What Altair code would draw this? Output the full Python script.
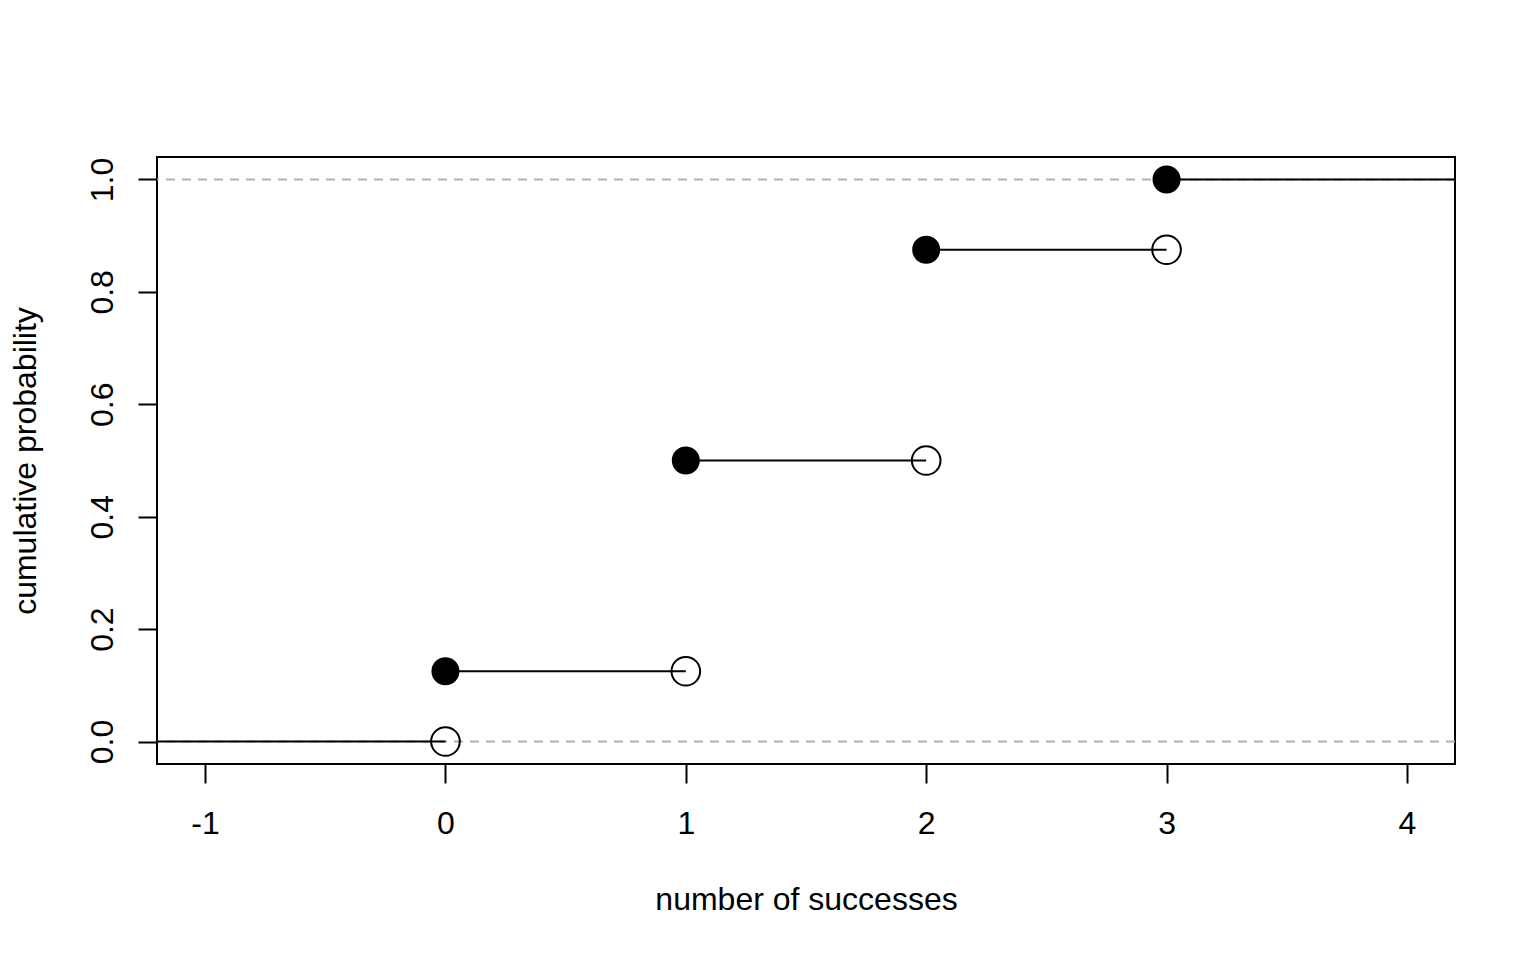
import altair as alt
import pandas as pd

# ECDF of number of successes (Binomial n=3, p=0.5)
knots = [0, 1, 2, 3]
cum_prob = [0.125, 0.5, 0.875, 1.0]
prev_prob = [0.0, 0.125, 0.5, 0.875]
seg_start = [-1.2, 0, 1, 2, 3]
seg_end = [0, 1, 2, 3, 4.2]
seg_level = [0.0, 0.125, 0.5, 0.875, 1.0]
ref_lines = [0.0, 1.0]
x_ticks = [-1, 0, 1, 2, 3, 4]
y_ticks = [0.0, 0.2, 0.4, 0.6, 0.8, 1.0]

FONT = "Liberation Sans"
W, H = 1298, 607

filled_df = pd.DataFrame({"x": knots, "y": cum_prob})
open_df = pd.DataFrame({"x": knots, "y": prev_prob})
seg_df = pd.DataFrame({"x": seg_start, "x2": seg_end, "y": seg_level})
ref_df = pd.DataFrame({"y": ref_lines})

xscale = alt.Scale(domain=[-1.2, 4.2], nice=False, zero=False)
yscale = alt.Scale(domain=[-0.04, 1.04], nice=False, zero=False)

xaxis = alt.Axis(
    values=x_ticks, format="d", title="number of successes",
    labelExpr="replace(datum.label, '\u2212', '-')",
    tickSize=19, tickWidth=2, tickColor="black", domain=False, grid=False,
    labelFont=FONT, labelFontSize=32, labelColor="black",
    labelBaseline="alphabetic", labelAlign="center", labelPadding=50,
    titleFont=FONT, titleFontSize=32, titleFontWeight="normal", titleColor="black",
    titleBaseline="alphabetic", titleY=145,
)
yaxis = alt.Axis(
    values=y_ticks, format=".1f", title="cumulative probability",
    tickSize=19, tickWidth=2, tickColor="black", domain=False, grid=False,
    labelFont=FONT, labelFontSize=32, labelColor="black",
    labelAngle=270, labelAlign="center", labelBaseline="alphabetic", labelPadding=26,
    titleFont=FONT, titleFontSize=32, titleFontWeight="normal", titleColor="black",
    titleAngle=270, titleAlign="center", titleBaseline="alphabetic",
    titleX=-122, titleY=H / 2,
)

ref = alt.Chart(ref_df).mark_rule(
    color="#B0B0B0", strokeWidth=2, strokeDash=[9, 7]
).encode(y=alt.Y("y:Q", scale=yscale, axis=yaxis))

segs = alt.Chart(seg_df).mark_rule(color="black", strokeWidth=2, clip=True).encode(
    x=alt.X("x:Q", scale=xscale, axis=xaxis),
    x2="x2:Q",
    y=alt.Y("y:Q", scale=yscale, axis=yaxis),
)

opens = alt.Chart(open_df).mark_point(
    shape="circle", filled=False, color="black", strokeWidth=2, size=820, opacity=1
).encode(
    x=alt.X("x:Q", scale=xscale, axis=xaxis),
    y=alt.Y("y:Q", scale=yscale, axis=yaxis),
)

fills = alt.Chart(filled_df).mark_point(
    shape="circle", filled=True, fill="black", stroke="black", strokeWidth=2,
    size=676, opacity=1
).encode(
    x=alt.X("x:Q", scale=xscale, axis=xaxis),
    y=alt.Y("y:Q", scale=yscale, axis=yaxis),
)

chart = (
    alt.layer(ref, segs, opens, fills)
    .properties(
        width=W, height=H,
        autosize=alt.AutoSizeParams(type="none"),
        padding={"left": 149, "top": 149, "right": 73, "bottom": 188},
        background="white",
    )
    .configure_view(stroke="black", strokeWidth=2)
)

chart.save("out.html", embed_options={"renderer": "svg", "actions": False})
